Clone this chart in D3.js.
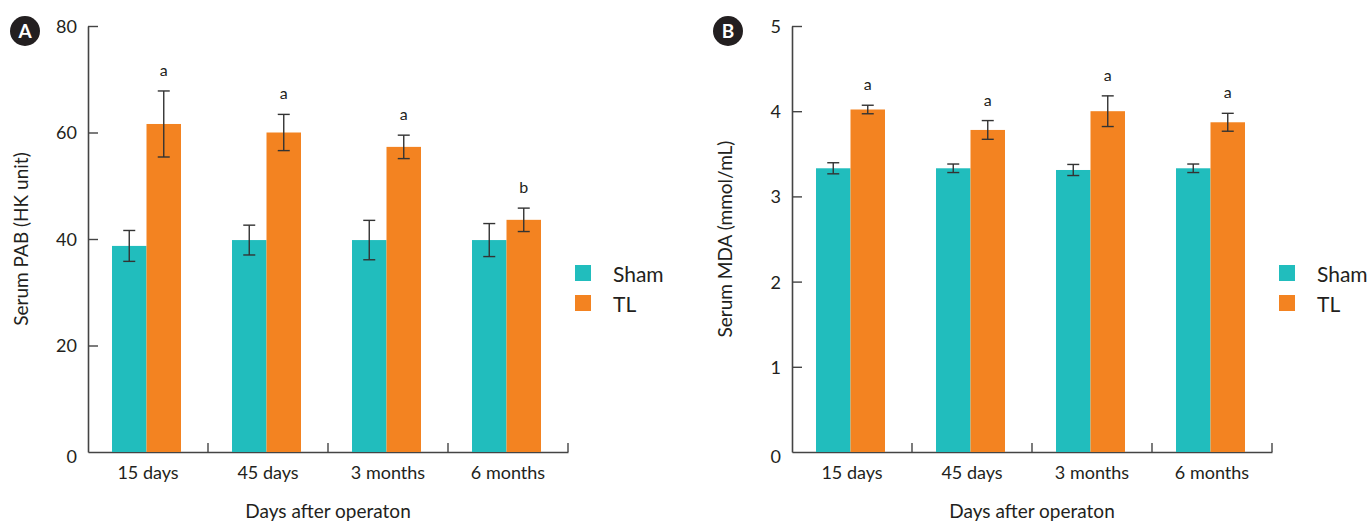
<!DOCTYPE html>
<html><head><meta charset="utf-8">
<script src="https://cdn.jsdelivr.net/npm/d3@7"></script>
<style>
body{margin:0;background:#fff;}
text{font-family:Lato,"Liberation Sans",Arial,sans-serif;fill:#231f20;}
</style></head>
<body><svg id="c" width="1367" height="523"></svg>
<script>
const categories = ["15 days","45 days","3 months","6 months"];
const seriesNames = ["Sham","TL"];
// Panel A: Serum PAB (HK unit)
const pabSham = [38.7, 39.8, 39.8, 39.8];
const pabShamErr = [2.9, 2.8, 3.7, 3.1];
const pabTL = [61.6, 60.0, 57.3, 43.6];
const pabTLErr = [6.2, 3.4, 2.2, 2.2];
const pabLetters = ["a","a","a","b"];
const pabTicks = [0,20,40,60,80];
// Panel B: Serum MDA (mmol/mL)
const mdaSham = [3.33, 3.33, 3.31, 3.33];
const mdaShamErr = [0.065, 0.05, 0.065, 0.05];
const mdaTL = [4.02, 3.78, 4.00, 3.87];
const mdaTLErr = [0.05, 0.11, 0.18, 0.105];
const mdaLetters = ["a","a","a","a"];
const mdaTicks = [0,1,2,3,4,5];

const colors = ["#21bdbd","#f38321"];
const svg = d3.select("#c");

function panel(opt){
  const g = svg.append("g");
  const x = d3.scaleBand().domain(categories).range([opt.x0, opt.x0+480]);
  const sub = d3.scaleBand().domain(seriesNames).range([24, 93]);
  const y = d3.scaleLinear().domain([0, opt.max]).range([452, 26]);
  const axisCol = "#444";

  // y axis
  const ya = g.append("g").attr("transform",`translate(${opt.x0},0)`)
    .call(d3.axisLeft(y).tickValues(opt.ticks).tickFormat(d3.format("d")).tickSizeInner(-10).tickSizeOuter(0).tickPadding(11));
  ya.select(".domain").attr("stroke",axisCol).attr("stroke-width",1.6);
  ya.selectAll(".tick line").attr("stroke",axisCol).attr("stroke-width",1.4);
  ya.selectAll(".tick text").style("font-size","18px").attr("fill","#231f20").attr("dy","0.36em");
  ya.selectAll(".tick").filter(d=>d===0).select("line").remove();
  ya.selectAll(".tick").filter(d=>d===0).select("text").attr("dy","0.6em");

  // x axis
  const xa = g.append("g").attr("transform",`translate(0,452)`)
    .call(d3.axisBottom(x).tickSize(0).tickPadding(14));
  xa.select(".domain").attr("stroke",axisCol).attr("stroke-width",1.6);
  xa.selectAll(".tick text").style("font-size","18px").attr("fill","#231f20");
  // band boundary ticks pointing up
  g.selectAll(".bt").data(categories).enter().append("line")
    .attr("x1",d=>x(d)+x.bandwidth()).attr("x2",d=>x(d)+x.bandwidth())
    .attr("y1",452).attr("y2",443).attr("stroke",axisCol).attr("stroke-width",1.4);

  const series = [{v:opt.sham,e:opt.shamErr},{v:opt.tl,e:opt.tlErr}];
  series.forEach((s,si)=>{
    const gg = g.append("g");
    gg.selectAll("rect").data(categories).enter().append("rect")
      .attr("x",(d)=>x(d)+sub(seriesNames[si]))
      .attr("width",sub.bandwidth())
      .attr("y",(d,i)=>y(s.v[i]))
      .attr("height",(d,i)=>y(0)-y(s.v[i]))
      .attr("fill",colors[si]);
    categories.forEach((c,i)=>{
      const cx = x(c)+sub(seriesNames[si])+sub.bandwidth()/2;
      const t = y(s.v[i]+s.e[i]), b = y(s.v[i]-s.e[i]);
      gg.append("line").attr("x1",cx).attr("x2",cx).attr("y1",t).attr("y2",b).attr("stroke","#333").attr("stroke-width",1.4);
      gg.append("line").attr("x1",cx-6).attr("x2",cx+6).attr("y1",t).attr("y2",t).attr("stroke","#333").attr("stroke-width",1.4);
      gg.append("line").attr("x1",cx-6).attr("x2",cx+6).attr("y1",b).attr("y2",b).attr("stroke","#333").attr("stroke-width",1.4);
      if(si===1){
        gg.append("text").attr("x",cx).attr("y",t-15).attr("text-anchor","middle")
          .style("font-size","16px").text(opt.letters[i]);
      }
    });
  });

  // axis titles
  g.append("text").attr("transform",`translate(${opt.x0-60},239) rotate(-90)`)
    .attr("text-anchor","middle").style("font-size","19px").text(opt.ytitle);
  g.append("text").attr("x",opt.x0+240).attr("y",518).attr("text-anchor","middle")
    .style("font-size","19px").text("Days after operaton");

  // legend
  seriesNames.forEach((n,i)=>{
    g.append("rect").attr("x",opt.x0+487).attr("y",265+i*30).attr("width",16).attr("height",16).attr("fill",colors[i]);
    g.append("text").attr("x",opt.x0+525).attr("y",282+i*30).style("font-size","21px").text(n);
  });

  // badge
  g.append("circle").attr("cx",opt.badgeX).attr("cy",31).attr("r",15).attr("fill","#231f20");
  g.append("text").attr("x",opt.badgeX).attr("y",38).attr("text-anchor","middle")
    .style("font-size","19px").style("font-weight","bold").style("fill","#fff").text(opt.badge);
}

panel({x0:88,max:80,ticks:pabTicks,sham:pabSham,shamErr:pabShamErr,tl:pabTL,tlErr:pabTLErr,letters:pabLetters,ytitle:"Serum PAB (HK unit)",badge:"A",badgeX:25});
panel({x0:792,max:5,ticks:mdaTicks,sham:mdaSham,shamErr:mdaShamErr,tl:mdaTL,tlErr:mdaTLErr,letters:mdaLetters,ytitle:"Serum MDA (mmol/mL)",badge:"B",badgeX:728});
</script></body></html>
